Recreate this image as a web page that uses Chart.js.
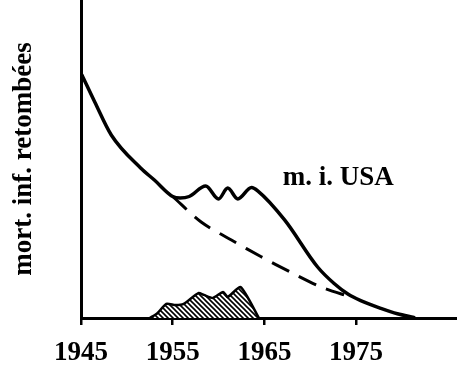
<!DOCTYPE html>
<html>
<head>
<meta charset="utf-8">
<script src="https://cdn.jsdelivr.net/npm/chart.js@4/dist/chart.umd.min.js"></script>
<style>
  html, body { margin: 0; padding: 0; background: #fff; }
  canvas { display: block; }
</style>
</head>
<body>
<canvas id="c" width="457" height="378"></canvas>
<script>
// ---- data (years, arbitrary index units) ----
const tickYears = [1945, 1955, 1965, 1975];
const yAxisTitle = "mort. inf. retombées";
const seriesLabel = "m. i. USA";
const seriesLabelAt = [1967.0, 44.3];

const usaYears  = [1945.1, 1946.5, 1948.3, 1951.5, 1953.0, 1955.0, 1955.8, 1956.8, 1958.6, 1960.0, 1961.0, 1962.1, 1963.6, 1964.3, 1967.2, 1970.8, 1972.6, 1974.1, 1975.5, 1977.7, 1979.5, 1981.3];
const usaValues = [81,     72,     61,     50,     46,     40.5,   40,     40.5,   44,     39.7,   43.3,   39.7,   43.5,   42.3,   32.7,   17,     11.5,   8,      5.8,    3.2,    1.4,    0.2];

const trendYears  = [1955.0, 1958.1, 1961.4, 1964.6, 1967.9, 1971.2, 1974.4];
const trendValues = [40.5,   32,     26,     20.5,   15.2,   10.3,   7];

const falloutYears  = [1952.5, 1953.3, 1954.3, 1955.3, 1956.2, 1957.8, 1958.4, 1959.4, 1960.5, 1961.0, 1962.4, 1964.4];
const falloutValues = [0,      1.5,    4.7,    4.3,    4.7,    8.3,    7.7,    6.7,    8.7,    7,      10.3,   0];

const toPts = (xs, ys) => xs.map((x, i) => ({x: x, y: ys[i]}));

// hatch pattern
function hatch() {
  const s = 5;
  const p = document.createElement('canvas');
  p.width = s; p.height = s;
  const g = p.getContext('2d');
  g.fillStyle = '#fff'; g.fillRect(0, 0, s, s);
  g.strokeStyle = '#000'; g.lineWidth = 1.6;
  g.beginPath();
  g.moveTo(-1, -1); g.lineTo(s + 1, s + 1);
  g.moveTo(-1, s - 1); g.lineTo(1, s + 1);
  g.moveTo(s - 1, -1); g.lineTo(s + 1, 1);
  g.stroke();
  return document.getElementById('c').getContext('2d').createPattern(p, 'repeat');
}

const serif = '"Liberation Serif", "Times New Roman", serif';

const labelPlugin = {
  id: 'seriesLabel',
  afterDatasetsDraw(chart) {
    const {ctx, scales} = chart;
    ctx.save();
    ctx.font = 'bold 27px ' + serif;
    ctx.fillStyle = '#000';
    ctx.textAlign = 'left';
    ctx.textBaseline = 'alphabetic';
    ctx.fillText(seriesLabel, scales.x.getPixelForValue(seriesLabelAt[0]), scales.y.getPixelForValue(seriesLabelAt[1]));
    ctx.restore();
  }
};

new Chart(document.getElementById('c'), {
  type: 'line',
  data: {
    datasets: [
      {
        data: toPts(falloutYears, falloutValues),
        borderColor: '#000', borderWidth: 2.5,
        backgroundColor: hatch(), fill: 'origin',
        tension: 0.2, pointRadius: 0
      },
      {
        data: toPts(trendYears, trendValues),
        borderColor: '#000', borderWidth: 3,
        borderDash: [19, 11], fill: false,
        tension: 0.3, pointRadius: 0
      },
      {
        data: toPts(usaYears, usaValues),
        borderColor: '#000', borderWidth: 3.5,
        fill: false, cubicInterpolationMode: 'monotone', pointRadius: 0,
        borderJoinStyle: 'round', borderCapStyle: 'round'
      }
    ]
  },
  options: {
    responsive: false,
    animation: false,
    devicePixelRatio: 1,
    layout: { padding: 0 },
    plugins: { legend: { display: false }, tooltip: { enabled: false } },
    scales: {
      x: {
        type: 'linear',
        min: 1945, max: 1986,
        afterBuildTicks(s) { s.ticks = tickYears.map(v => ({value: v})); },
        afterFit(s) { s.height = 60; },
        grid: { display: true, drawOnChartArea: false, drawTicks: true, tickLength: 7, lineWidth: 2.5, color: '#000' },
        border: { display: true, width: 3, color: '#000' },
        ticks: {
          color: '#000', padding: 12, maxRotation: 0, autoSkip: false,
          font: { family: serif, size: 27, weight: 'bold' },
          callback: v => String(v)
        }
      },
      y: {
        min: 0, max: 106,
        afterFit(s) { s.width = 81; },
        grid: { display: false },
        border: { display: true, width: 3, color: '#000' },
        ticks: { display: false },
        title: {
          display: true, text: yAxisTitle, color: '#000',
          padding: { top: 8, bottom: 0 },
          font: { family: serif, size: 27, weight: 'bold' }
        }
      }
    }
  },
  plugins: [labelPlugin]
});
</script>
</body>
</html>
